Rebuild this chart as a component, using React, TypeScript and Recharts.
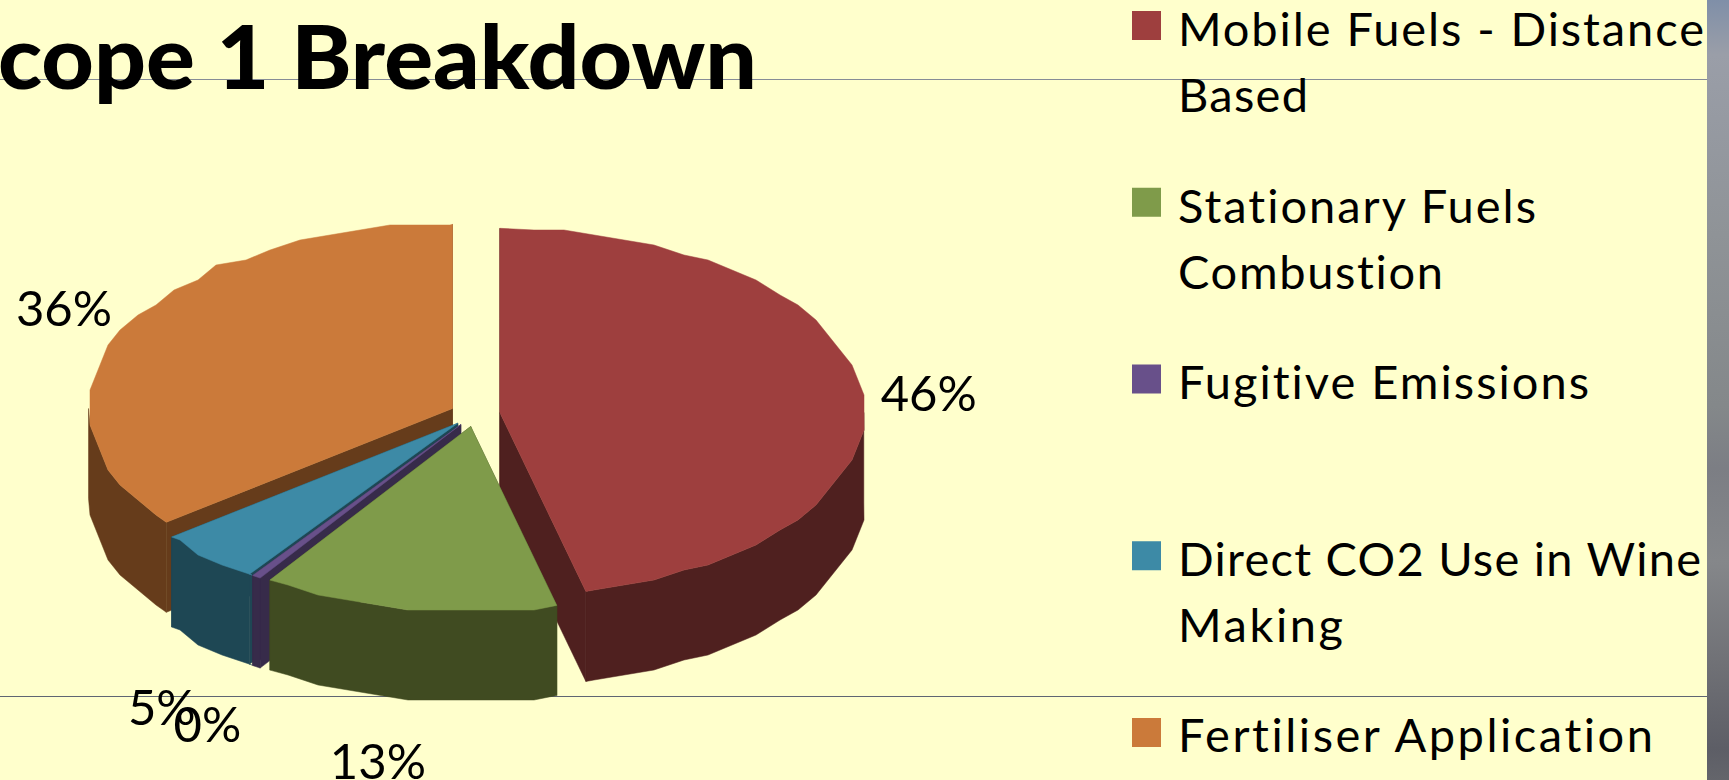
import { PieChart, Pie, Legend } from 'recharts';

const W = 1729;
const H = 780;

// legend order
const categories = [
  'Mobile Fuels - Distance Based',
  'Stationary Fuels Combustion',
  'Fugitive Emissions',
  'Direct CO2 Use in Wine Making',
  'Fertiliser Application',
];
const shares = [46.2, 13.1, 0.4, 4.7, 35.6];
const topColors = ['#9e3f3e', '#7f9b4a', '#68508a', '#3d8aa6', '#cb7a3a'];
const wallColors = ['#4f201f', '#404b21', '#372b4a', '#1e4754', '#663c1b'];
const legendLines = [
  ['Mobile Fuels - Distance', 'Based'],
  ['Stationary Fuels', 'Combustion'],
  ['Fugitive Emissions'],
  ['Direct CO2 Use in Wine', 'Making'],
  ['Fertiliser Application'],
];
// measured width of each legend line, the original is set with loose uneven spacing
const legendWidths = [[526, 130], [358, 265], [411], [523, 165], [475]];

// where the labels sit, per category: radius along the mid angle and extra drop
const labelRadius = [457, 565, 476, 456, 457];
const labelDrop = [6, 64, 110, 124, -6];

// slices are painted back to front, going counter-clockwise from the red one
const paintOrder = [0, 4, 3, 2, 1];
const pieData = paintOrder.map((i) => ({
  name: categories[i],
  value: shares[i],
  fill: topColors[i],
  wall: wallColors[i],
  index: i,
}));

const total = shares.reduce((a, b) => a + b, 0);
const startAngle = 90 - (shares[0] / total) * 360;

const CX = 475;
const CY = 414;
const RX = 364;
const TILT = 0.506;
const DEPTH = 90;
const EXPLODE = 25;
const ARC_STEP = 5;

const rad = (deg: number) => (deg * Math.PI) / 180;

// sampled outline, snapped to a coarse grid to get the blocky edge of the original.
// inner samples sit on whole multiples of ARC_STEP so top and wall outlines line up
function arcPoints(ox: number, oy: number, a0: number, a1: number) {
  const at = (a: number, snap: boolean): [number, number] => {
    const x = ox + RX * Math.cos(rad(a));
    const y = oy - RX * TILT * Math.sin(rad(a));
    return snap ? [Math.round(x / 6) * 6, Math.round(y / 5) * 5] : [x, y];
  };
  const pts: [number, number][] = [at(a0, false)];
  for (let a = Math.floor(a0 / ARC_STEP + 1) * ARC_STEP; a < a1; a += ARC_STEP) {
    pts.push(at(a, true));
  }
  pts.push(at(a1, false));
  return pts;
}

const toPath = (pts: [number, number][]) =>
  'M' + pts.map((p) => p[0].toFixed(1) + ',' + p[1].toFixed(1)).join('L') + 'Z';

const drop = (pts: [number, number][]) =>
  pts.map((p) => [p[0], p[1] + DEPTH] as [number, number]);

function Slice3D(props: any) {
  const { cx, cy, startAngle: a0, endAngle: a1, midAngle, fill, wall } = props;
  const ox = cx + EXPLODE * Math.cos(rad(midAngle));
  const oy = cy - EXPLODE * TILT * Math.sin(rad(midAngle));
  const lo = Math.min(a0, a1);
  const hi = Math.max(a0, a1);
  const arc = arcPoints(ox, oy, lo, hi);
  const apex: [number, number] = [ox, oy];

  const walls: [number, number][][] = [];
  // radial faces
  [arc[0], arc[arc.length - 1]].forEach((p) => {
    walls.push([apex, p, [p[0], p[1] + DEPTH], [apex[0], apex[1] + DEPTH]]);
  });
  // outer face, only the part turned to the viewer
  const ranges = [
    [Math.max(lo, -180), Math.min(hi, 0)],
    [Math.max(lo, 180), Math.min(hi, 360)],
  ];
  ranges.forEach(([from, to]) => {
    if (to > from) {
      const a = arcPoints(ox, oy, from, to);
      walls.push([...a, ...drop(a).reverse()]);
    }
  });

  return (
    <g>
      {walls.map((w, i) => (
        <path key={i} d={toPath(w)} fill={wall} stroke={wall} strokeWidth={0.5} />
      ))}
      <path d={toPath([apex, ...arc])} fill={fill} stroke={fill} strokeWidth={0.5} />
    </g>
  );
}

function sliceLabel(props: any) {
  const { cx, cy, midAngle, value, index } = props;
  const i = pieData[index].index;
  const r = labelRadius[i];
  const x = cx + r * Math.cos(rad(midAngle));
  const y = cy - r * TILT * Math.sin(rad(midAngle)) + labelDrop[i];
  return (
    <text
      x={x}
      y={y}
      textAnchor="middle"
      dominantBaseline="central"
      fontFamily="Lato"
      fontSize={49}
      fill="#000"
    >
      {Math.round(value)}%
    </text>
  );
}

function LegendList() {
  return (
    <svg width={W} height={H} style={{ display: 'block' }}>
      {categories.map((name, i) => (
        <g key={name}>
          <rect x={1132} y={11 + i * 176.75} width={29} height={29} fill={topColors[i]} />
          {legendLines[i].map((line, j) => (
            <text
              key={line}
              x={1178}
              y={46 + i * 176.5 + j * 66}
              fontFamily="Lato"
              fontSize={47}
              textLength={legendWidths[i][j]}
              lengthAdjust="spacing"
              style={{ fontVariantLigatures: 'none' }}
              fill="#000"
            >
              {line}
            </text>
          ))}
        </g>
      ))}
    </svg>
  );
}

export default function App() {
  return (
    <div
      style={{
        position: 'absolute',
        left: 0,
        top: 0,
        width: W,
        height: H,
        overflow: 'hidden',
        background: '#ffffcc',
      }}
    >
      <svg width={W} height={H} style={{ position: 'absolute', left: 0, top: 0 }}>
        <line x1={0} x2={1707} y1={79.5} y2={79.5} stroke="#868c96" strokeWidth={1} />
        <line x1={0} x2={1707} y1={696.5} y2={696.5} stroke="#5f6572" strokeWidth={1} />
        <text
          x={-2}
          y={89}
          fontFamily="Lato"
          fontWeight={900}
          fontSize={88}
          textLength={759}
          lengthAdjust="spacingAndGlyphs"
          fill="#000"
        >
          cope 1 Breakdown
        </text>
      </svg>
      <div style={{ position: 'absolute', left: 0, top: 0 }}>
        <PieChart width={W} height={H} margin={{ top: 0, right: 0, bottom: 0, left: 0 }}>
          <Legend
            content={<LegendList />}
            wrapperStyle={{ position: 'absolute', left: 0, top: 0, width: W, height: H }}
          />
          <Pie
            data={pieData}
            dataKey="value"
            nameKey="name"
            cx={CX}
            cy={CY}
            outerRadius={RX}
            startAngle={startAngle}
            endAngle={startAngle + 360}
            shape={Slice3D}
            label={sliceLabel}
            labelLine={false}
            stroke="none"
            isAnimationActive={false}
          />
        </PieChart>
      </div>
      <div
        style={{
          position: 'absolute',
          left: 1707,
          top: 0,
          width: 22,
          height: H,
          background:
            'linear-gradient(180deg, #7f8fa8 0%, #9a9ea8 7%, #8f9397 30%, #84888a 52%, #7c7e84 60%, #85878a 72%, #707176 85%, #5d5e66 96%, #64656b 100%)',
        }}
      />
    </div>
  );
}
